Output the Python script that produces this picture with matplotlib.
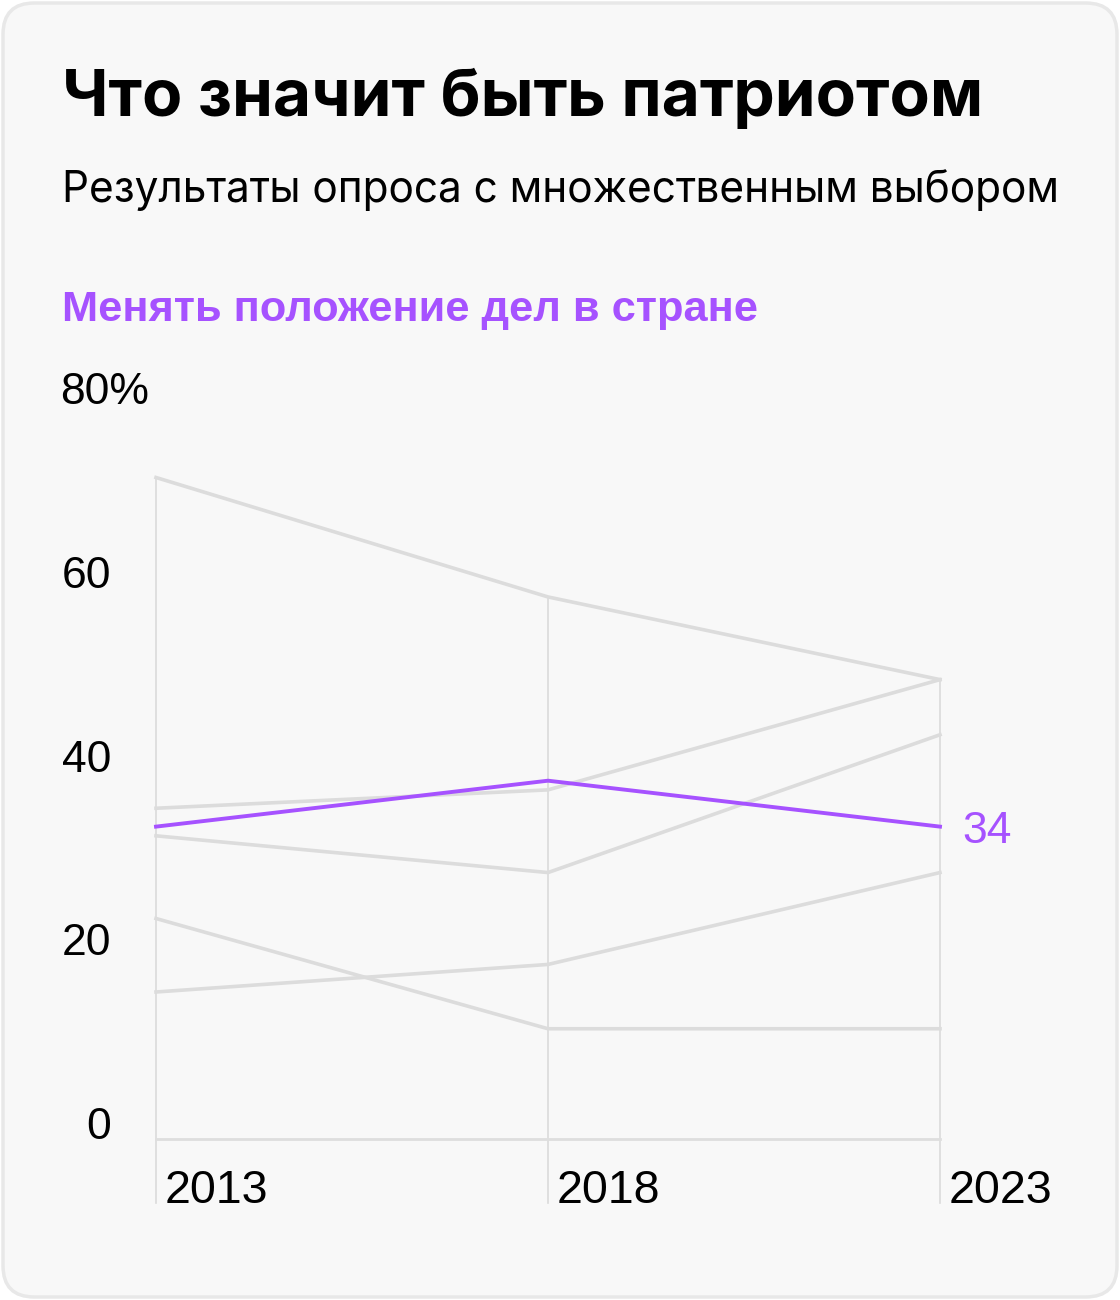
import matplotlib
matplotlib.use("Agg")
import matplotlib.pyplot as plt
from matplotlib.patches import FancyBboxPatch

years = [2013, 2018, 2023]
grey_series = [
    [72, 59, 50],
    [36, 38, 50],
    [33, 29, 44],
    [24, 12, 12],
    [16, 19, 29],
]
purple_series = [34, 39, 34]
y_ticks = [0, 20, 40, 60, 80]
title = "Что значит быть патриотом"
subtitle = "Результаты опроса с множественным выбором"
highlight = "Менять положение дел в стране"

W, H = 1120, 1300
PURPLE = "#a652ff"
GREY = "#dcdcdc"
NUM_FONT = ["Liberation Sans", "DejaVu Sans"]

fig = plt.figure(figsize=(W / 100, H / 100), dpi=100)
fig.patch.set_facecolor("white")

# card background
card = FancyBboxPatch((3 / W, 3 / H), 1 - 6 / W, 1 - 6 / H,
                      boxstyle="round,pad=0,rounding_size=0.028",
                      transform=fig.transFigure, facecolor="#f8f8f8",
                      edgecolor="#e8e8e8", linewidth=2.5, mutation_aspect=W / H,
                      zorder=-10)
fig.patches.append(card)

fig.text(62 / W, 1 - 98 / H, title, fontsize=47.3, fontweight="bold",
         family=["Inter", "DejaVu Sans"], va="center", ha="left")
fig.text(62 / W, 1 - 190 / H, subtitle, fontsize=30.5,
         family=["Inter", "DejaVu Sans"], va="center", ha="left")
fig.text(62 / W, 1 - 310 / H, highlight, fontsize=31.2, fontweight="bold",
         family=["Liberation Sans", "DejaVu Sans"], color=PURPLE,
         va="center", ha="left")

# plot area: x 156..940 px, y 0 at 1139 px, 80 at 404 px
ax = fig.add_axes([156 / W, (H - 1139) / H, (940 - 156) / W, (1139 - 404) / H])
ax.set_xlim(years[0], years[-1])
ax.set_ylim(0, 80)
ax.axis("off")

# vertical year guides from max value down past the axis
for i, yr in enumerate(years):
    top = max([s[i] for s in grey_series] + [purple_series[i]])
    ax.plot([yr, yr], [top, -7], color="#dadada", lw=1.2, clip_on=False, zorder=1)

ax.plot([years[0], years[-1]], [0, 0], color="#dedede", lw=2, clip_on=False, zorder=1)

for s in grey_series:
    ax.plot(years, s, color=GREY, lw=2.6, solid_joinstyle="miter", zorder=2,
            clip_on=False)
ax.plot(years, purple_series, color=PURPLE, lw=2.8, zorder=3, clip_on=False)

ax.annotate(str(purple_series[-1]), (years[-1], purple_series[-1]),
            xytext=(16, 0), textcoords="offset points", color=PURPLE,
            fontsize=32, family=NUM_FONT, va="center_baseline", ha="left",
            annotation_clip=False)

# y labels sit on their values
tr = ax.get_yaxis_transform()
for v in y_ticks:
    if v == y_ticks[-1]:
        ax.text((60 - 156) / (940 - 156), v, str(v) + "%", transform=tr,
                fontsize=32, family=NUM_FONT, ha="left",
                va="baseline", clip_on=False)
    else:
        ax.text((111 - 156) / (940 - 156), v, str(v), transform=tr,
                fontsize=32, family=NUM_FONT, ha="right",
                va="baseline", clip_on=False)

for yr in years:
    ax.annotate(str(yr), (yr, -7), xytext=(6.5, 0), textcoords="offset points",
                fontsize=33.5, family=NUM_FONT, ha="left", va="baseline",
                annotation_clip=False)

fig.savefig("out.png", dpi=100, facecolor="white")
